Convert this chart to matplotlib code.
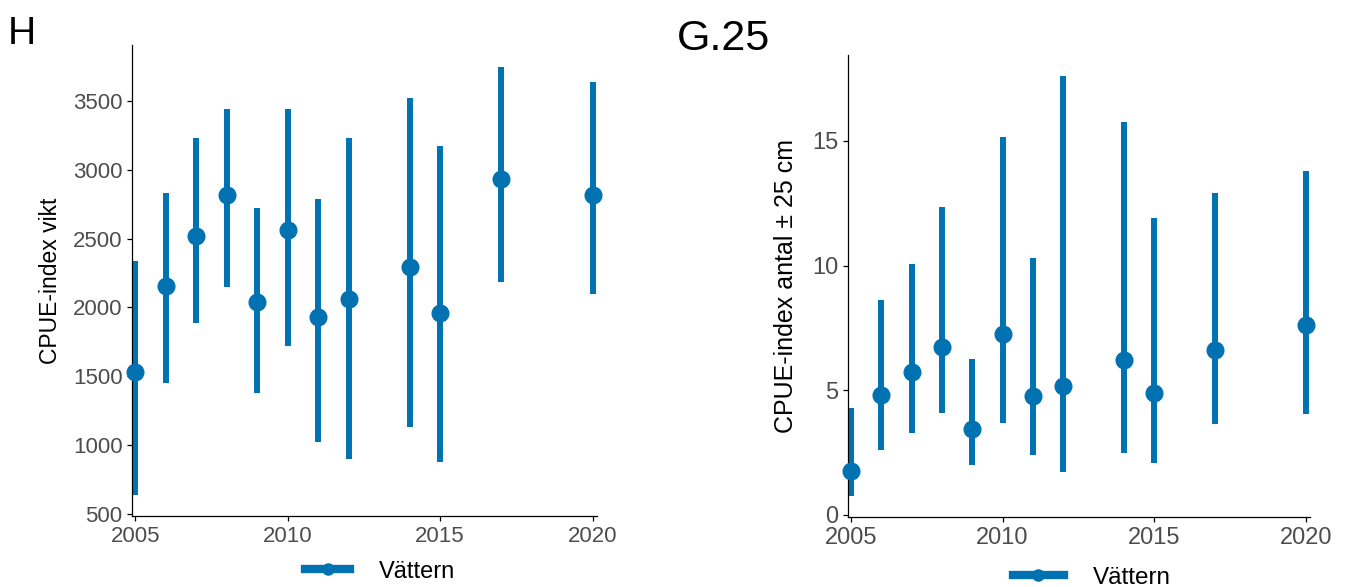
import numpy as np
import matplotlib
matplotlib.use("Agg")
import matplotlib.pyplot as plt
from matplotlib.lines import Line2D

plt.rcParams['font.family'] = ['Liberation Sans', 'DejaVu Sans']

# data
years = [2005, 2006, 2007, 2008, 2009, 2010, 2011, 2012, 2014, 2015, 2017, 2020]

vikt = [1530, 2155, 2520, 2820, 2040, 2565, 1930, 2060, 2295, 1960, 2930, 2820]
vikt_lo = [640, 1450, 1890, 2150, 1380, 1720, 1025, 900, 1130, 880, 2185, 2100]
vikt_hi = [2340, 2830, 3230, 3440, 2720, 3445, 2790, 3230, 3525, 3175, 3750, 3640]

antal = [1.75, 4.8, 5.75, 6.75, 3.45, 7.25, 4.75, 5.15, 6.2, 4.9, 6.6, 7.6]
antal_lo = [0.75, 2.6, 3.3, 4.1, 2.0, 3.7, 2.4, 1.7, 2.5, 2.1, 3.65, 4.05]
antal_hi = [4.3, 8.6, 10.05, 12.35, 6.25, 15.15, 10.3, 17.6, 15.75, 11.9, 12.9, 13.8]

xticks = [2005, 2010, 2015, 2020]
col = '#0072B2'
grey = '#4D4D4D'

fig = plt.figure(figsize=(13.48, 5.87), dpi=100)
ax1 = fig.add_axes([0.098, 0.121, 0.345, 0.802])
ax2 = fig.add_axes([0.629, 0.119, 0.343, 0.787])


def panel(ax, y, lo, hi, yticks, ylabel, pad, fs_lab, fs_tick):
    ax.vlines(years, lo, hi, color=col, lw=4.3, zorder=2)
    ax.plot(years, y, 'o', color=col, ms=12, zorder=3, clip_on=False)
    r = max(hi) - min(lo)
    ax.set_ylim(min(lo) - 0.05 * r, max(hi) + 0.05 * r)
    ax.set_xlim(2004.9, 2020.15)
    ax.set_xticks(xticks)
    ax.set_yticks(yticks)
    ax.set_ylabel(ylabel, fontsize=fs_lab, color='black', labelpad=pad)
    for s in ['top', 'right']:
        ax.spines[s].set_visible(False)
    for s in ['left', 'bottom']:
        ax.spines[s].set_linewidth(0.9)
    ax.tick_params(labelsize=fs_tick, labelcolor=grey, length=3.5, width=0.9)


panel(ax1, vikt, vikt_lo, vikt_hi, [500, 1000, 1500, 2000, 2500, 3000, 3500],
      'CPUE-index vikt', 8, 16.5, 16)
panel(ax2, antal, antal_lo, antal_hi, [0, 5, 10, 15],
      'CPUE-index antal \u00b1 25 cm', 10, 18, 17)

fig.text(0.006, 0.925, 'H', fontsize=28)
fig.text(0.502, 0.915, 'G.25', fontsize=31)

handle = Line2D([], [], color=col, lw=6, marker='o', ms=8)
fig.legend([handle], ['Vättern'], loc='center', bbox_to_anchor=(0.282, 0.026),
           frameon=False, fontsize=17, handlelength=1.9, handletextpad=1.2)
fig.legend([handle], ['Vättern'], loc='center', bbox_to_anchor=(0.81, 0.016),
           frameon=False, fontsize=17.5, handlelength=2.1, handletextpad=1.2)

fig.savefig('out.png', dpi=100)
